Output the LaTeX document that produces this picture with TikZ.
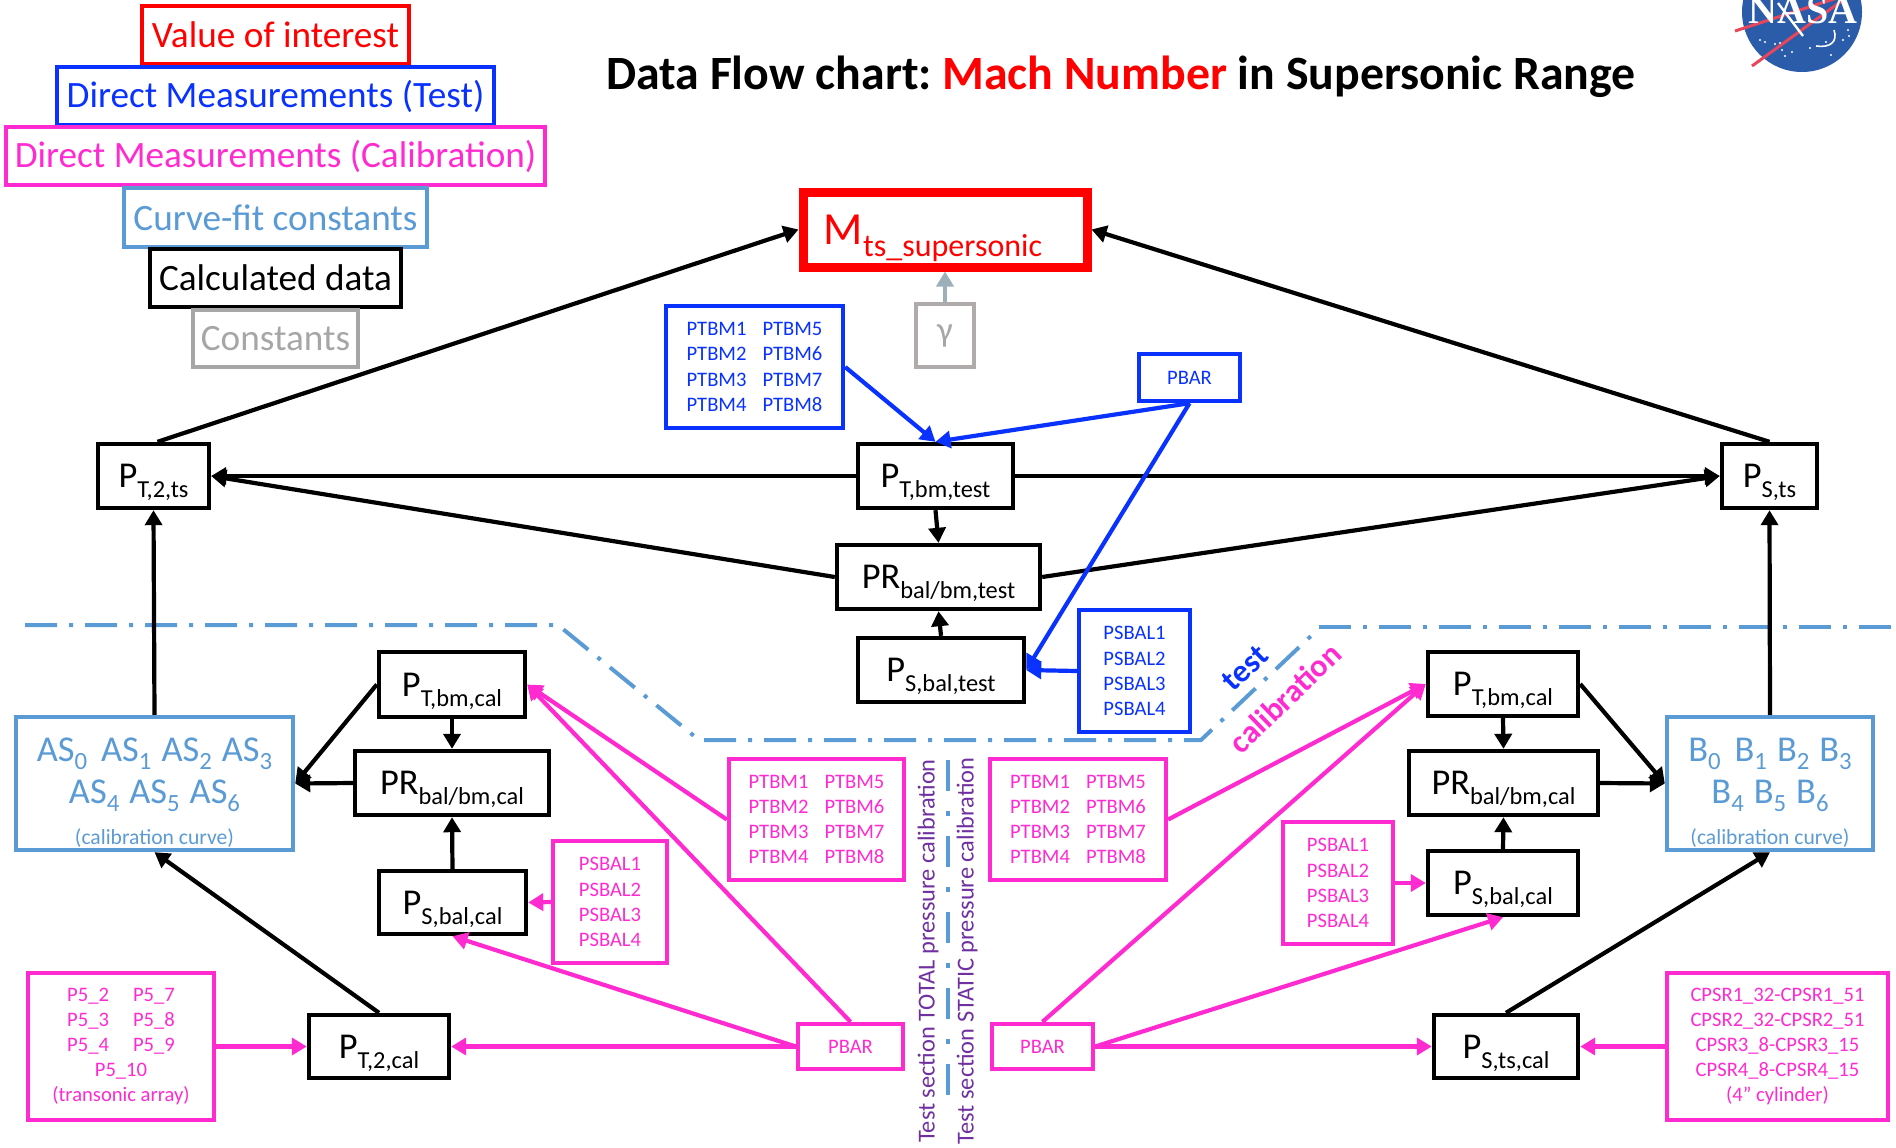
\documentclass[tikz,border=0pt]{standalone}
\usepackage{fontspec}
\setmainfont{Carlito}
\newfontfamily\nasafont{Liberation Serif}
\usetikzlibrary{arrows.meta}
\frenchspacing
\definecolor{cred}{HTML}{FF0000}
\definecolor{cblue}{HTML}{0A32FF}
\definecolor{cpink}{HTML}{FF2BD0}
\definecolor{csky}{HTML}{5B9BD5}
\definecolor{cgray}{HTML}{A6A6A6}
\definecolor{cgray2}{HTML}{AFABAB}
\definecolor{carrowgray}{HTML}{9DB0BA}
\definecolor{cpurple}{HTML}{7030A0}
\definecolor{cnasa}{HTML}{2A5CAA}
\definecolor{cswoosh}{HTML}{E8465A}
\newcommand{\mybox}[6]{\node[basebox,#1,minimum width={(#5-#3)*0.5pt},minimum height={(#6-#4)*0.5pt}] (#2) at ({(#3+#5)/2},{(#4+#6)/2})}
\newcommand{\lab}[2]{{\fontsize{18.2}{20}\selectfont\raisebox{0pt}[11.7pt][0pt]{#1\raisebox{-5pt}{\fontsize{12.2}{14}\selectfont #2}}}}
\newcommand{\cf}[2]{#1\raisebox{-4pt}{\fontsize{12.4}{14}\selectfont #2}}
\newcommand{\ptbmtxt}{PTBM1\hspace{8pt}PTBM5\\PTBM2\hspace{8pt}PTBM6\\PTBM3\hspace{8pt}PTBM7\\PTBM4\hspace{8pt}PTBM8}
\newcommand{\psbaltxt}{PSBAL1\\PSBAL2\\PSBAL3\\PSBAL4}
\tikzset{
 basebox/.style={draw,line width=2.2pt,inner sep=0pt,align=center,sharp corners},
 legend/.style={font=\fontsize{18.6}{22}\selectfont},
 small/.style={font=\fontsize{10.3}{12.6}\selectfont},
 calc/.style={draw=black,text=black},
 meas/.style={draw=cblue,text=cblue,small},
 cali/.style={draw=cpink,text=cpink,small},
 sky/.style={draw=csky,text=csky,font=\fontsize{18.2}{20.6}\selectfont},
 conn/.style={line width=2.1pt,-{Triangle[length=7.5pt,width=8.5pt]}},
 kline/.style={conn,black},
 bline/.style={conn,cblue},
 pline/.style={conn,cpink},
 divider/.style={draw=csky,line width=2pt,dash pattern=on 16pt off 6pt on 2pt off 6pt},
 divider2/.style={draw=csky,line width=2pt,dash pattern=on 15.5pt off 10pt on 2.5pt off 10pt},
 sidetext/.style={text=cpurple,rotate=90,inner sep=0pt,font=\fontsize{12.2}{14}\selectfont},
 rottext/.style={rotate=44,inner sep=0pt,font=\bfseries\fontsize{16}{18}\selectfont},
}
\begin{document}
\begin{tikzpicture}[x=0.5pt,y=-0.5pt]
\useasboundingbox (0,0) rectangle (1896,1147);
% NASA logo
\begin{scope}
\clip (0,0) rectangle (1896,1147);
\fill[cnasa] (1802,12) circle[radius=30pt];
\draw[cswoosh,line width=1.5pt] (1735,31) -- (1840,-3);
\draw[cswoosh,line width=1.5pt] (1752,66) -- (1843,0);
\node[inner sep=0pt,text=white,font=\nasafont\bfseries\fontsize{20}{20}\selectfont] (nasa) at (1803,10) {NASA};
\draw[white,line width=0.8pt] (1834,30) .. controls (1838,42) and (1830,48) .. (1816,46);
\draw[white,line width=1.2pt] (1778,3) -- (1803,36);
\foreach \sx/\sy in {1760/40,1765/42,1775/44,1782/50,1785/56,1792/52,1810/48,1826/42,1843/40,1849/36,1848/30,1831/55,1780/43}
  \fill[white] (\sx,\sy) circle[radius=0.6pt];
\end{scope}
% title
\node[inner sep=0pt,font=\bfseries\fontsize{23.9}{28}\selectfont] (title) at (1121,77) {Data Flow chart: \textcolor{cred}{Mach Number} in Supersonic Range};
% legend
\mybox{legend,draw=cred,text=cred}{l1}{142}{6}{409}{64} {Value of interest};
\mybox{legend,draw=cblue,text=cblue}{l2}{57}{67}{494}{125} {Direct Measurements (Test)};
\mybox{legend,draw=cpink,text=cpink}{l3}{6}{127}{545}{185} {Direct Measurements (Calibration)};
\mybox{legend,draw=csky,text=csky}{l4}{124}{188}{427}{247} {Curve-fit constants};
\mybox{legend,draw=black}{l5}{150}{249}{401}{307} {Calculated data};
\mybox{legend,draw=cgray,text=cgray}{l6}{193}{310}{358}{367} {Constants};
% main
\mybox{draw=cred,text=cred,line width=4.5pt}{M}{803}{192}{1087}{267} {\fontsize{23}{26}\selectfont\raisebox{0pt}[14.8pt][0pt]{M\raisebox{-6pt}{\fontsize{16}{18}\selectfont ts\_supersonic}}\hspace{12pt}};
\mybox{draw=cgray2,text=cgray,font=\fontsize{17.5}{20}\selectfont}{gam}{916}{304}{974}{367} {γ};
\mybox{meas}{bptbm}{666}{306}{843}{428} {\ptbmtxt};
\mybox{meas}{bpbar}{1139}{354}{1240}{401} {PBAR};
\mybox{calc}{ptts}{98}{444}{209}{508} {\lab{P}{T,2,ts}};
\mybox{calc}{psts}{1722}{444}{1817}{508} {\lab{P}{S,ts}};
\mybox{calc}{ptbmt}{858}{444}{1013}{508} {\lab{P}{T,bm,test}};
\mybox{calc}{prt}{837}{545}{1040}{609} {\lab{PR}{bal/bm,test}};
\mybox{calc}{psbt}{858}{638}{1024}{702} {\lab{P}{S,bal,test}};
\mybox{meas}{bpsbal}{1079}{610}{1190}{732} {\psbaltxt};
% left calibration
\mybox{calc}{ptbl}{379}{652}{525}{717} {\lab{P}{T,bm,cal}};
\mybox{calc}{prl}{355}{751}{549}{815} {\lab{PR}{bal/bm,cal}};
\mybox{calc}{psbl}{379}{871}{526}{934} {\lab{P}{S,bal,cal}};
\mybox{cali}{ppsl}{553}{841}{667}{963} {\psbaltxt};
\mybox{sky}{as}{16}{717}{293}{850} {\rule{0pt}{21pt}\cf{AS}{0}\hspace{7pt}\cf{AS}{1}\hspace{5pt}\cf{AS}{2}\hspace{5pt}\cf{AS}{3}\\\cf{AS}{4}\hspace{5pt}\cf{AS}{5}\hspace{5pt}\cf{AS}{6}\\{\fontsize{10.8}{13}\selectfont (calibration curve)}};
\mybox{cali}{p5}{28}{973}{214}{1120} {P5\_2\hspace{12pt}P5\_7\\P5\_3\hspace{12pt}P5\_8\\P5\_4\hspace{12pt}P5\_9\\P5\_10\\(transonic array)};
\mybox{calc}{pt2c}{309}{1015}{449}{1078} {\lab{P}{T,2,cal}};
\mybox{cali}{pptbl}{729}{759}{904}{880} {\ptbmtxt};
\mybox{cali}{pbarl}{798}{1024}{903}{1069} {PBAR};
% right calibration
\mybox{cali}{pptbr}{990}{759}{1166}{880} {\ptbmtxt};
\mybox{cali}{pbarr}{992}{1024}{1093}{1069} {PBAR};
\mybox{cali}{ppsr}{1283}{822}{1393}{944} {\psbaltxt};
\mybox{calc}{ptbr}{1428}{652}{1578}{716} {\lab{P}{T,bm,cal}};
\mybox{calc}{prr}{1409}{751}{1598}{815} {\lab{PR}{bal/bm,cal}};
\mybox{calc}{psbr}{1428}{851}{1578}{915} {\lab{P}{S,bal,cal}};
\mybox{sky}{bb}{1667}{717}{1873}{850} {\rule{0pt}{21pt}\cf{B}{0}\hspace{7pt}\cf{B}{1}\hspace{5pt}\cf{B}{2}\hspace{5pt}\cf{B}{3}\\\cf{B}{4}\hspace{5pt}\cf{B}{5}\hspace{5pt}\cf{B}{6}\\{\fontsize{10.8}{13}\selectfont (calibration curve)}};
\mybox{cali}{cpsr}{1667}{973}{1888}{1120} {CPSR1\_32-CPSR1\_51\\CPSR2\_32-CPSR2\_51\\CPSR3\_8-CPSR3\_15\\CPSR4\_8-CPSR4\_15\\(4” cylinder)};
\mybox{calc}{pstc}{1434}{1015}{1578}{1078} {\lab{P}{S,ts,cal}};
% dividers
\coordinate (d1) at (25,625); \coordinate (d2) at (558,625); \coordinate (d3) at (699,740);
\coordinate (d4) at (1201,740); \coordinate (d5) at (1312,635);
\coordinate (d6) at (1319,627); \coordinate (d7) at (1892,627);
\draw[divider] (d1) -- (d2) -- (d3) -- (d4) -- (d5);
\draw[divider] (d6) -- (d7);
\coordinate (v1) at (948,760); \coordinate (v2) at (948,1112);
\draw[divider2] (v1) -- (v2);
% rotated labels
\node[sidetext] (st1) at (928,951) {Test section TOTAL pressure calibration};
\node[sidetext] (st2) at (967,951) {Test section STATIC pressure calibration};
\node[rottext,text=cblue] (tlab) at (1245,668) {test};
\node[rottext,text=cpink] (clab) at (1285,698) {calibration};
% black connectors
\draw[kline] ([xshift=2pt]ptts.north) -- (M.west);
\draw[kline] (psts.north) -- (M.east);
\draw[kline] (ptbmt.west) -- (ptts.east);
\draw[kline] (ptbmt.east) -- (psts.west);
\draw[kline] (prt.west) -- (ptts.east);
\draw[kline] (prt.east) -- (psts.west);
\draw[kline] (ptbmt.south) -- (prt.north);
\draw[kline] (psbt.north) -- (prt.south);
\draw[kline] (as.north) -- (ptts.south);
\draw[kline] (bb.north) -- (psts.south);
\draw[kline] (ptbl.west) -- (as.east);
\draw[kline] (prl.west) -- (as.east);
\draw[kline] (ptbl.south) -- (prl.north);
\draw[kline] (psbl.north) -- (prl.south);
\draw[kline] (pt2c.north) -- (as.south);
\draw[kline] (ptbr.east) -- (bb.west);
\draw[kline] (prr.east) -- (bb.west);
\draw[kline] (ptbr.south) -- (prr.north);
\draw[kline] (psbr.north) -- (prr.south);
\draw[kline] (pstc.north) -- (bb.south);
% gray
\draw[conn,carrowgray] (gam.north) -- (M.south);
% blue
\draw[bline] (bptbm.east) -- (ptbmt.north);
\draw[bline] (bpbar.south) -- (ptbmt.north);
\draw[bline] (bpbar.south) -- (psbt.east);
\draw[bline] (bpsbal.west) -- (psbt.east);
% pink
\draw[pline] (pbarl.north) -- (ptbl.east);
\draw[pline] (pptbl.west) -- (ptbl.east);
\draw[pline] (pbarl.west) -- (psbl.south);
\draw[pline] (pbarl.west) -- (pt2c.east);
\draw[pline] (ppsl.west) -- (psbl.east);
\draw[pline] (p5.east) -- (pt2c.west);
\draw[pline] (pptbr.east) -- (ptbr.west);
\draw[pline] (pbarr.north) -- (ptbr.west);
\draw[pline] (pbarr.east) -- (psbr.south);
\draw[pline] (pbarr.east) -- (pstc.west);
\draw[pline] (ppsr.east) -- (psbr.west);
\draw[pline] (cpsr.west) -- (pstc.east);
\end{tikzpicture}
\end{document}
